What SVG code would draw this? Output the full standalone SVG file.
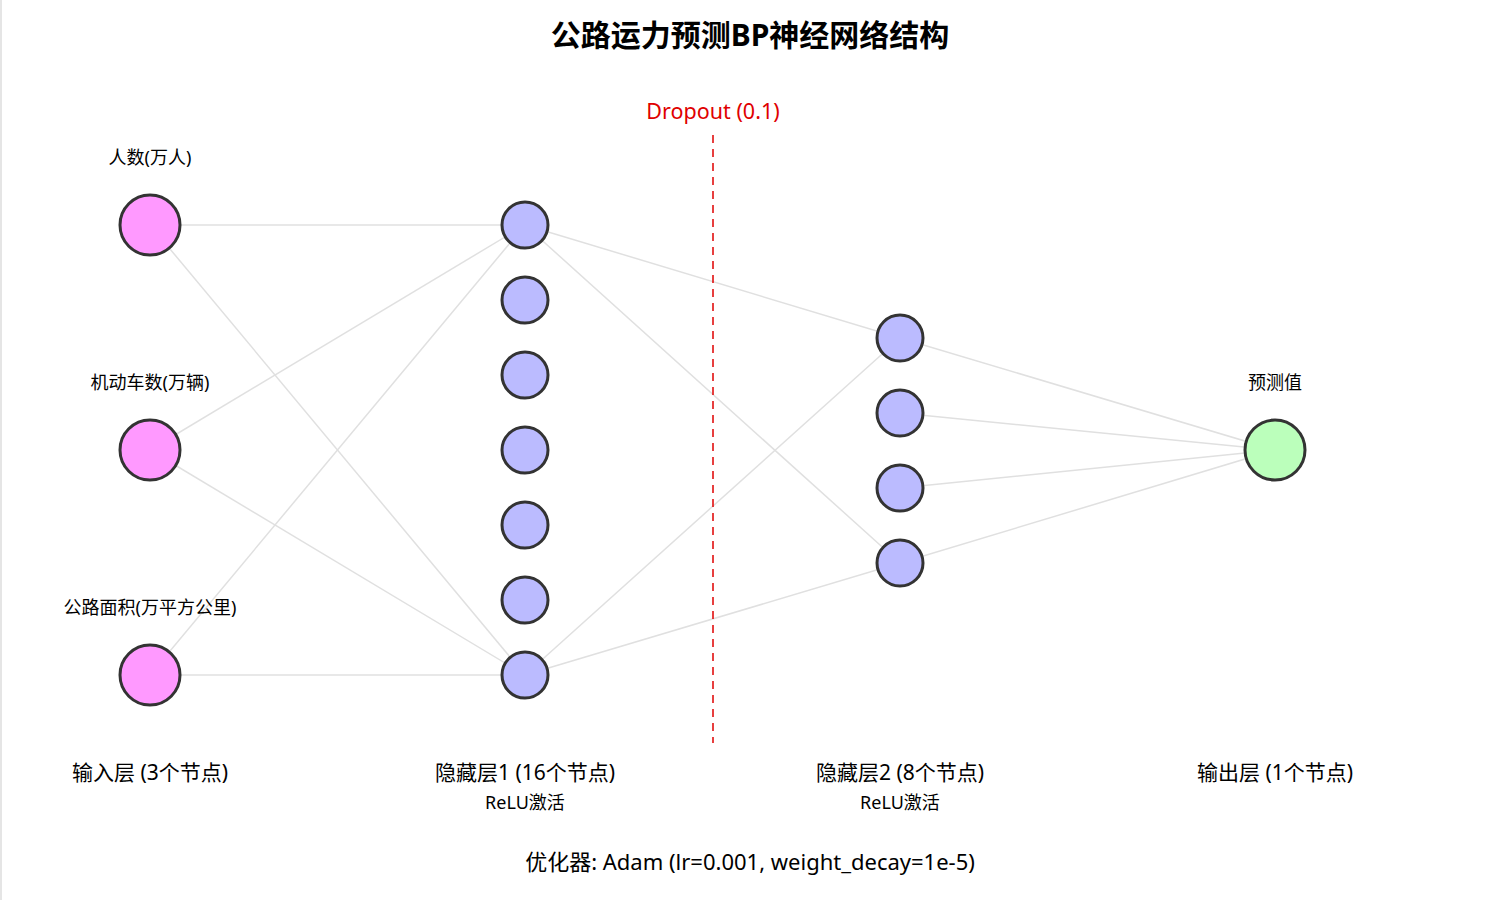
<svg xmlns="http://www.w3.org/2000/svg" width="1500" height="900" viewBox="0 0 1500 900">
<style>
text{font-family:"Noto Sans","Noto Sans CJK SC","Liberation Sans",sans-serif;fill:#000;text-anchor:middle}
.title{font-size:30px;font-weight:bold}
.lbl{font-size:18px}
.layer{font-size:21px}
.opt{font-size:22px}
.sub{font-size:18px}
.edge{stroke:#e0e0e0;stroke-width:1.5;fill:none}
.in{fill:#ff99ff;stroke:#333;stroke-width:3}
.hid{fill:#bbbbff;stroke:#333;stroke-width:3}
.out{fill:#bbffbb;stroke:#333;stroke-width:3}
</style>
<rect x="0" y="0" width="1500" height="900" fill="#fff"/>
<line x1="1" y1="0" x2="1" y2="900" stroke="#ddd" stroke-width="1.5"/>
<text class="title" x="750" y="46">公路运力预测BP神经网络结构</text>
<g id="connectors">
<line class="edge" x1="150" y1="225" x2="525" y2="225"/>
<line class="edge" x1="150" y1="225" x2="525" y2="675"/>
<line class="edge" x1="150" y1="450" x2="525" y2="225"/>
<line class="edge" x1="150" y1="450" x2="525" y2="675"/>
<line class="edge" x1="150" y1="675" x2="525" y2="225"/>
<line class="edge" x1="150" y1="675" x2="525" y2="675"/>
<line class="edge" x1="525" y1="225" x2="900" y2="338"/>
<line class="edge" x1="525" y1="225" x2="900" y2="563"/>
<line class="edge" x1="525" y1="675" x2="900" y2="338"/>
<line class="edge" x1="525" y1="675" x2="900" y2="563"/>
<line class="edge" x1="900" y1="338" x2="1275" y2="450"/>
<line class="edge" x1="900" y1="413" x2="1275" y2="450"/>
<line class="edge" x1="900" y1="488" x2="1275" y2="450"/>
<line class="edge" x1="900" y1="563" x2="1275" y2="450"/>
</g>
<g id="dropout">
<line x1="713" y1="135" x2="713" y2="743" stroke="#e00000" stroke-width="1.5" stroke-dasharray="8,6"/>
<text x="713" y="119" style="font-size:21.5px;fill:#e00000">Dropout (0.1)</text>
</g>
<g id="input1"><circle class="in" cx="150" cy="225" r="30"/><text class="lbl" x="150" y="164">人数(万人)</text></g>
<g id="input2"><circle class="in" cx="150" cy="450" r="30"/><text class="lbl" x="150" y="389">机动车数(万辆)</text></g>
<g id="input3"><circle class="in" cx="150" cy="675" r="30"/><text class="lbl" x="150" y="614">公路面积(万平方公里)</text></g>
<g id="h1_1"><circle class="hid" cx="525" cy="225" r="23"/></g>
<g id="h1_2"><circle class="hid" cx="525" cy="300" r="23"/></g>
<g id="h1_3"><circle class="hid" cx="525" cy="375" r="23"/></g>
<g id="h1_4"><circle class="hid" cx="525" cy="450" r="23"/></g>
<g id="h1_5"><circle class="hid" cx="525" cy="525" r="23"/></g>
<g id="h1_6"><circle class="hid" cx="525" cy="600" r="23"/></g>
<g id="h1_7"><circle class="hid" cx="525" cy="675" r="23"/></g>
<g id="h2_1"><circle class="hid" cx="900" cy="338" r="23"/></g>
<g id="h2_2"><circle class="hid" cx="900" cy="413" r="23"/></g>
<g id="h2_3"><circle class="hid" cx="900" cy="488" r="23"/></g>
<g id="h2_4"><circle class="hid" cx="900" cy="563" r="23"/></g>
<g id="output"><circle class="out" cx="1275" cy="450" r="30"/><text class="lbl" x="1275" y="389">预测值</text></g>
<g id="layer-labels">
<text class="layer" x="150" y="780">输入层 (3个节点)</text>
<text class="layer" x="525" y="780">隐藏层1 (16个节点)</text>
<text class="sub" x="525" y="809">ReLU激活</text>
<text class="layer" x="900" y="780">隐藏层2 (8个节点)</text>
<text class="sub" x="900" y="809">ReLU激活</text>
<text class="layer" x="1275" y="780">输出层 (1个节点)</text>
</g>
<text class="opt" x="750" y="870">优化器: Adam (lr=0.001, weight_decay=1e-5)</text>
</svg>
